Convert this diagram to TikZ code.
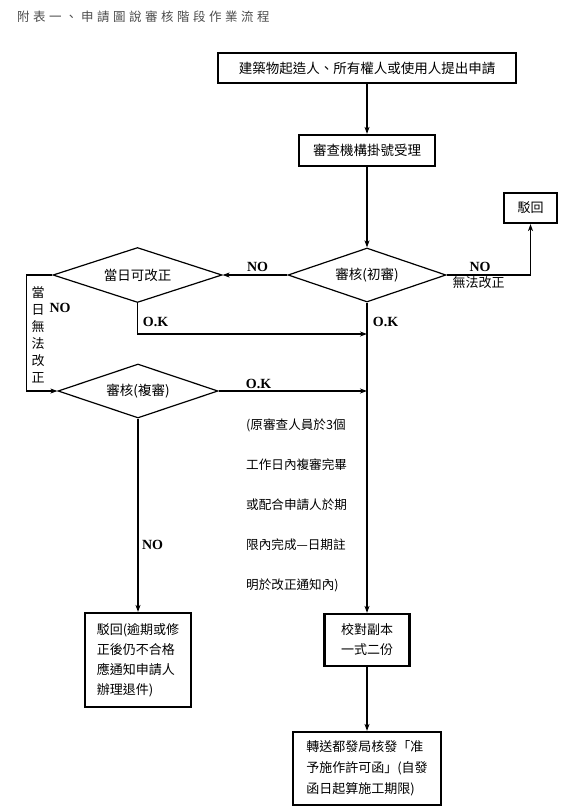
\documentclass[tikz,border=0pt]{standalone}
\usepackage{fontspec}
\setmainfont{Liberation Serif}
\newfontfamily\cjk{Noto Sans CJK TC}
\newfontfamily\cjktitle[LetterSpace=28]{Noto Sans CJK TC}
\usetikzlibrary{positioning,arrows.meta,shapes.geometric}
\tikzset{
  box/.style={draw,line width=2.2pt,inner sep=4pt,align=left,font=\cjk\fontsize{13}{20}\selectfont},
  decision/.style={diamond,aspect=3,draw,line width=1.2pt,inner sep=0pt,font=\cjk\fontsize{13.5}{16}\selectfont},
  flow/.style={-{Stealth[length=7pt,width=5pt,inset=2pt]},line width=1.2pt},
  mainflow/.style={flow,line width=2pt},
  loopflow/.style={flow,line width=1.8pt},
  oklbl/.style={font=\bfseries\fontsize{14}{16}\selectfont,inner sep=0pt},
  cjklbl/.style={font=\cjk\fontsize{13}{17}\selectfont,inner sep=0pt,align=center},
  note/.style={font=\cjk\fontsize{12.6}{40}\selectfont,align=left,inner sep=0pt}}

\begin{document}
\begin{tikzpicture}[x=1pt,y=-1pt]
  \useasboundingbox (0,0) rectangle (566,811);
  \node[anchor=west,font=\cjktitle\fontsize{12.5}{14}\selectfont,text=black!70,inner sep=0pt] (title) at (17,17) {附表一、申請圖說審核階段作業流程};
  % boxes and decisions
  \node[box,align=center,font=\cjk\fontsize{13.5}{16}\selectfont,minimum width=298pt,minimum height=30pt] (apply) at (367,68) {建築物起造人、所有權人或使用人提出申請};
  \node[box,align=center,font=\cjk\fontsize{13.5}{16}\selectfont,minimum width=136pt,minimum height=31pt] (accept) at (367,150.5) {審查機構掛號受理};
  \node[box,align=center,minimum width=53pt,minimum height=30pt] (back) at (530.5,208) {駁回};
  \node[decision,minimum width=158pt,minimum height=54pt] (check) at (367,275) {審核(初審)};
  \node[decision,minimum width=169pt,minimum height=55pt] (fix) at (137.5,275) {當日可改正};
  \node[decision,minimum width=160pt,minimum height=54pt] (recheck) at (138,391) {審核(複審)};
  \node[box,minimum width=106pt,minimum height=94pt] (reject) at (138,660) {駁回(逾期或修\\正後仍不合格\\應通知申請人\\辦理退件)};
  \node[box,minimum width=85pt,minimum height=52pt] (copies) at (367,640) {校對副本\\一式二份};
  \node[box,font=\cjk\fontsize{13}{21}\selectfont,minimum width=148pt,minimum height=73pt] (permit) at (367,768.5) {轉送都發局核發「准\\予施作許可函」(自發\\函日起算施工期限)};
  % labels
  \node[oklbl] (no1) at (257.5,267) {NO};
  \node[oklbl] (no2) at (480,267) {NO};
  \node[cjklbl] (nofix) at (478.5,283) {無法改正};
  \node[oklbl] (no3) at (60,308) {NO};
  \node[cjklbl] (sameday) at (38,334.5) {當\\日\\無\\法\\改\\正};
  \node[oklbl] (ok1) at (155.5,322) {O.K};
  \node[oklbl] (ok2) at (385.5,322) {O.K};
  \node[oklbl] (ok3) at (258.5,384) {O.K};
  \node[oklbl] (no4) at (152.5,545) {NO};
  \node[note,anchor=west] (memo) at (246,505) {(原審查人員於3個\\工作日內複審完畢\\或配合申請人於期\\限內完成—日期註\\明於改正通知內)};
  % connectors
  \coordinate (join1) at (367,334);
  \coordinate (join2) at (367,391);
  \draw[mainflow] (apply) -- (accept);
  \draw[mainflow] (accept) -- (check);
  \draw[flow] (check.west) -- (fix.east);
  \draw[flow] (check.east) -| (back.south);
  \draw[loopflow] (fix.west) -- ++(-26,0) |- (recheck.west);
  \draw[loopflow] (fix.south) |- (join1);
  \draw[flow] (recheck.east) -- (join2);
  \draw[mainflow] (check.south) -- (copies.north);
  \draw[flow] (recheck.south) -- (reject.north);
  \draw[mainflow] (copies.south) -- (permit.north);
\end{tikzpicture}
\end{document}
